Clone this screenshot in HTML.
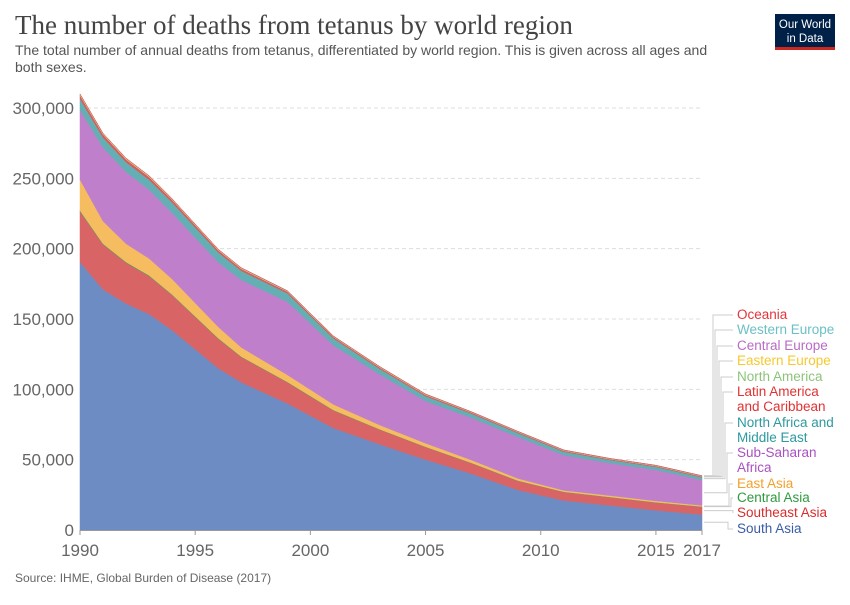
<!DOCTYPE html>
<html><head><meta charset="utf-8"><style>
body{margin:0;background:#fff;width:850px;height:600px;overflow:hidden;font-family:"Liberation Sans",sans-serif}
</style></head><body>
<svg width="850" height="600">
<text x="15" y="34" font-family="Liberation Serif,serif" font-size="27" fill="#444">The number of deaths from tetanus by world region</text>
<text x="15" y="55" font-size="14" fill="#555">The total number of annual deaths from tetanus, differentiated by world region. This is given across all ages and</text>
<text x="15" y="72" font-size="14" fill="#555">both sexes.</text>
<g><rect x="775" y="14" width="60" height="36" fill="#002147"/><rect x="775" y="47" width="60" height="3" fill="#ce261e"/>
<text x="805" y="28" font-size="11.5" fill="#fff" text-anchor="middle">Our World</text><text x="805" y="42" font-size="11.5" fill="#fff" text-anchor="middle">in Data</text></g>
<g id="grid"></g><g id="areas"></g><g id="axes"></g><g id="legend"></g>
<text x="15" y="582" font-size="12" fill="#666">Source: IHME, Global Burden of Disease (2017)</text>
</svg>
<script>
const years=[1990,1991,1992,1993,1994,1996,1997,1999,2001,2003,2005,2007,2009,2011,2013,2015,2017];
const southAsia=[190.5,171,161,153.5,142,115,105,90,72.5,61,50,40,28.5,21,17.5,14,11];
const southeastAsia=[36,32,29,27,25,21,18,15,12.5,10.5,9,7.5,6.5,6,5.8,5.5,5.5];
const centralAsia=[0.6,0.5,0.5,0.5,0.4,0.4,0.3,0.3,0.3,0.2,0.2,0.2,0.2,0.2,0.2,0.2,0.2];
const eastAsia=[22,16,13,12,11,8,6.5,5,4,3,2.5,2,1.5,1,1,1,0.8];
const subSaharan=[49.5,52.5,51,49,47,46,48,52,42,36,30,30,29.5,25,23,22,18];
const northAfricaME=[8,7,7,7,7.5,7,6.5,6,5,4,3.5,3,2.8,2.5,2.3,2.2,2];
const latinAmerica=[2.5,2.2,2,2,1.8,1.5,1.4,1.2,1,1,0.9,0.8,0.7,0.7,0.6,0.6,0.6];
const northAmerica=years.map(()=>0.05);
const easternEurope=[0.5,0.4,0.4,0.4,0.3,0.3,0.3,0.2,0.2,0.2,0.2,0.1,0.1,0.1,0.1,0.1,0.1];
const centralEurope=years.map(()=>0.15);
const westernEurope=years.map(()=>0.15);
const oceania=years.map(()=>0.1);
const yTicks=[0,50000,100000,150000,200000,250000,300000];
const yTickLabels=["0","50,000","100,000","150,000","200,000","250,000","300,000"];
const xTicks=[1990,1995,2000,2005,2010,2015,2017];
const series=[
 {name:"South Asia",v:southAsia,c:"#6d8cc4",lc:"#3a5ca6"},
 {name:"Southeast Asia",v:southeastAsia,c:"#d86466",lc:"#d62d2d"},
 {name:"Central Asia",v:centralAsia,c:"#4aa55a",lc:"#2e9a3e"},
 {name:"East Asia",v:eastAsia,c:"#f6bd60",lc:"#f2a12c"},
 {name:"Sub-Saharan Africa",v:subSaharan,c:"#c07fcb",lc:"#a951c0"},
 {name:"North Africa and Middle East",v:northAfricaME,c:"#63afb4",lc:"#2c9aa0"},
 {name:"Latin America and Caribbean",v:latinAmerica,c:"#dc5a5a",lc:"#e03232"},
 {name:"North America",v:northAmerica,c:"#9fd08a",lc:"#8cc47a"},
 {name:"Eastern Europe",v:easternEurope,c:"#f8d65a",lc:"#f6c82e"},
 {name:"Central Europe",v:centralEurope,c:"#c98bd0",lc:"#b96bc6"},
 {name:"Western Europe",v:westernEurope,c:"#7dc8cc",lc:"#6bc0c6"},
 {name:"Oceania",v:oceania,c:"#e0584e",lc:"#e2363b"}];
const NS="http://www.w3.org/2000/svg";
const X=y=>80+(y-1990)*(702-80)/27, Y=v=>530-v*422/300000;
function el(t,a,p){const e=document.createElementNS(NS,t);for(const k in a)e.setAttribute(k,a[k]);document.getElementById(p).appendChild(e);return e;}
yTicks.forEach((t,i)=>{
 if(t>0){const l=el("line",{x1:80,x2:702,y1:Y(t),y2:Y(t),stroke:"#ddd","stroke-dasharray":"4,3"},"grid");
 
 }
 const tx=el("text",{x:74,y:Y(t)+6,"text-anchor":"end","font-size":"17",fill:"#666"},"axes");tx.textContent=yTickLabels[i];
 
 
});
xTicks.forEach(t=>{
 const tx=el("text",{x:X(t),y:556,"text-anchor":"middle","font-size":"17",fill:"#666"},"axes");tx.textContent=t;
 
 
 const tk=el("line",{x1:X(t),x2:X(t),y1:530,y2:535,stroke:"#999"},"axes");
 
 
});
const ax=el("line",{x1:80,x2:702,y1:530.5,y2:530.5,stroke:"#999"},"axes");


let base=years.map(()=>0);const ends=[];
series.forEach(s=>{
 const top=base.map((b,i)=>b+s.v[i]*1000);
 let d="M"+years.map((y,i)=>X(y)+","+Y(top[i])).join("L");
 for(let i=years.length-1;i>=0;i--)d+="L"+X(years[i])+","+Y(base[i]);
 const p=el("path",{d:d+"Z",fill:s.c,stroke:s.c,"stroke-width":0.5},"areas");
 
 
 ends.push(Y((base[base.length-1]+top[top.length-1])/2));
 base=top;
});
const labY=[533,517,502,488,457,427,396,381,365,350,334,319];
const lines={4:["Sub-Saharan","Africa"],5:["North Africa and","Middle East"],6:["Latin America","and Caribbean"]};
series.forEach((s,i)=>{
 const ly=labY[i]-4, kx=708+ (i<1?20:(11-i)*2+5);
 const pl=el("polyline",{points:`704,${ends[i]} ${kx},${ends[i]} ${kx},${ly} 733,${ly}`,fill:"none",stroke:"#ccc","stroke-width":1},"legend");
 
 
 const ls=lines[i]||[s.name];
 ls.forEach((t,j)=>{
  const tx=el("text",{x:737,y:labY[i]+(j-ls.length+1)*15+ (ls.length>1?15:0),"font-size":"13.5",fill:s.lc},"legend");tx.textContent=t;
  
  
 });
});
</script>
</body></html>
